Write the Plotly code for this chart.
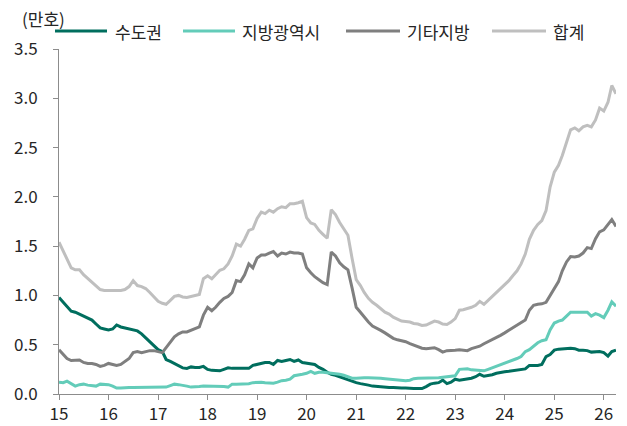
import pandas as pd
import plotly.graph_objects as go

months = pd.date_range("2015-01-01", periods=136, freq="MS")

seoul = [
    0.98, 0.93, 0.88, 0.84, 0.83, 0.81, 0.79, 0.77, 0.75, 0.71, 0.67, 0.66,
    0.65, 0.66, 0.70, 0.68, 0.67, 0.66, 0.65, 0.64, 0.61, 0.57, 0.53, 0.49,
    0.45, 0.43, 0.35, 0.33, 0.31, 0.29, 0.265, 0.26, 0.275, 0.27, 0.27, 0.28,
    0.25, 0.24, 0.235, 0.235, 0.25, 0.265, 0.26, 0.26, 0.26, 0.26, 0.26, 0.29,
    0.30, 0.315, 0.32, 0.32, 0.30, 0.34, 0.33, 0.34, 0.35, 0.33, 0.345, 0.32,
    0.315, 0.31, 0.30, 0.27, 0.25, 0.22, 0.20, 0.19, 0.175, 0.16, 0.14, 0.125,
    0.115, 0.105, 0.10, 0.09, 0.08, 0.075, 0.07, 0.065, 0.065, 0.065, 0.06, 0.06,
    0.06, 0.055, 0.055, 0.055, 0.055, 0.075, 0.10, 0.11, 0.115, 0.14, 0.105, 0.12,
    0.15, 0.14, 0.145, 0.155, 0.16, 0.175, 0.20, 0.18, 0.185, 0.195, 0.21, 0.22,
    0.225, 0.23, 0.235, 0.24, 0.245, 0.255, 0.29, 0.29, 0.29, 0.30, 0.38, 0.40,
    0.445, 0.455, 0.46, 0.465, 0.465, 0.46, 0.445, 0.445, 0.44, 0.425, 0.425, 0.43,
    0.42, 0.385, 0.43, 0.445,
]

metro = [
    0.12, 0.115, 0.13, 0.10, 0.08, 0.095, 0.10, 0.09, 0.085, 0.08, 0.10, 0.10,
    0.095, 0.08, 0.06, 0.06, 0.065, 0.065, 0.065, 0.065, 0.065, 0.065, 0.065, 0.07,
    0.07, 0.065, 0.07, 0.085, 0.10, 0.095, 0.09, 0.08, 0.07, 0.07, 0.075, 0.08,
    0.08, 0.08, 0.08, 0.08, 0.075, 0.07, 0.10, 0.10, 0.10, 0.10, 0.105, 0.115,
    0.12, 0.12, 0.115, 0.11, 0.11, 0.12, 0.135, 0.14, 0.15, 0.185, 0.19, 0.20,
    0.21, 0.23, 0.21, 0.22, 0.22, 0.215, 0.21, 0.21, 0.20, 0.19, 0.175, 0.16,
    0.16, 0.165, 0.165, 0.165, 0.165, 0.165, 0.16, 0.155, 0.15, 0.15, 0.145, 0.14,
    0.135, 0.14, 0.155, 0.16, 0.16, 0.16, 0.165, 0.165, 0.165, 0.17, 0.175, 0.175,
    0.185, 0.25, 0.255, 0.255, 0.245, 0.24, 0.235, 0.235, 0.25, 0.265, 0.28, 0.295,
    0.31, 0.325, 0.34, 0.36, 0.38, 0.43, 0.45, 0.49, 0.52, 0.54, 0.55, 0.65,
    0.72, 0.74, 0.75, 0.79, 0.83, 0.83, 0.83, 0.825, 0.83, 0.79, 0.815, 0.80,
    0.775, 0.85, 0.935, 0.89,
]

other = [
    0.45, 0.40, 0.36, 0.34, 0.34, 0.345, 0.32, 0.31, 0.31, 0.30, 0.28, 0.29,
    0.31, 0.30, 0.29, 0.30, 0.33, 0.36, 0.42, 0.43, 0.42, 0.43, 0.44, 0.44,
    0.43, 0.42, 0.47, 0.53, 0.58, 0.61, 0.63, 0.63, 0.645, 0.66, 0.68, 0.80,
    0.88, 0.845, 0.88, 0.93, 0.97, 0.99, 1.03, 1.15, 1.14, 1.21, 1.32, 1.28,
    1.38, 1.41, 1.41, 1.43, 1.445, 1.40, 1.43, 1.42, 1.44, 1.43, 1.43, 1.42,
    1.28, 1.23, 1.19, 1.16, 1.13, 1.11, 1.44, 1.40, 1.33, 1.29, 1.26, 1.08,
    0.88, 0.83, 0.78, 0.73, 0.69, 0.67, 0.645, 0.62, 0.59, 0.565, 0.55, 0.54,
    0.53, 0.51, 0.495, 0.475, 0.465, 0.46, 0.465, 0.47, 0.45, 0.425, 0.44, 0.44,
    0.445, 0.45, 0.445, 0.44, 0.46, 0.475, 0.485, 0.51, 0.53, 0.555, 0.575, 0.595,
    0.62, 0.645, 0.67, 0.70, 0.725, 0.75, 0.85, 0.90, 0.91, 0.915, 0.93, 1.00,
    1.08, 1.14, 1.25, 1.34, 1.395, 1.39, 1.40, 1.43, 1.485, 1.475, 1.575, 1.645,
    1.665, 1.72, 1.77, 1.70,
]

total = [
    1.54, 1.45, 1.36, 1.28, 1.26, 1.26, 1.21, 1.17, 1.13, 1.09, 1.06, 1.05,
    1.05, 1.045, 1.05, 1.05, 1.06, 1.09, 1.15, 1.10, 1.09, 1.07, 1.03, 0.98,
    0.94, 0.92, 0.91, 0.95, 0.99, 1.00, 0.985, 0.98, 0.99, 1.00, 1.01, 1.17,
    1.20, 1.17, 1.21, 1.255, 1.27, 1.32, 1.40, 1.52, 1.50, 1.57, 1.66, 1.675,
    1.78, 1.845, 1.83, 1.865, 1.845, 1.88, 1.90, 1.89, 1.93, 1.93, 1.94, 1.955,
    1.79, 1.735, 1.72, 1.66, 1.62, 1.58, 1.87, 1.82, 1.74, 1.67, 1.61, 1.38,
    1.16, 1.10, 1.03, 0.97, 0.93, 0.90, 0.87, 0.83, 0.81, 0.78, 0.76, 0.74,
    0.735, 0.73, 0.715, 0.71, 0.695, 0.70, 0.72, 0.74, 0.73, 0.71, 0.705, 0.73,
    0.765, 0.85, 0.855, 0.865, 0.88, 0.90, 0.94, 0.91, 0.95, 0.99, 1.03, 1.07,
    1.11, 1.15, 1.20, 1.25, 1.32, 1.42, 1.57, 1.66, 1.72, 1.76, 1.86, 2.10,
    2.25, 2.32, 2.42, 2.56, 2.68, 2.70, 2.67, 2.71, 2.725, 2.71, 2.78, 2.90,
    2.87, 2.96, 3.13, 3.045,
]

series_names = ["수도권", "지방광역시", "기타지방", "합계"]
series_colors = ["#006E5E", "#63CCB9", "#7F7F7F", "#BFBFBF"]
series_values = [seoul, metro, other, total]

year_ticks = pd.date_range("2015-01-01", "2026-01-01", freq="YS")
year_labels = ["15", "16", "17", "18", "19", "20", "21", "22", "23", "24", "25", "26"]
y_ticks = [0, 0.5, 1.0, 1.5, 2.0, 2.5, 3.0, 3.5]

FONT = "Noto Sans CJK KR"
TXT = "#262626"
AX = "#8C8C8C"

fig = go.Figure()
for name, color, vals in zip(series_names, series_colors, series_values):
    fig.add_trace(go.Scatter(
        x=months, y=vals, mode="lines", name=name,
        line=dict(color=color, width=3), showlegend=False,
    ))

# plot area in pixels
L, R, T, B = 59, 11, 49, 32
W, H = 627, 426
pw = W - L - R
ph = H - T - B

def px(xp):
    return (xp - L) / pw

def py(yp):
    return (H - B - yp) / ph

legend_items = [
    (55, 107, 113),
    (183, 235, 240),
    (346, 400, 405),
    (492, 546, 551),
]
leg_y = 31
for (x0, x1, tx), name, color in zip(legend_items, series_names, series_colors):
    fig.add_shape(type="line", xref="paper", yref="paper",
                  x0=px(x0), x1=px(x1), y0=py(leg_y), y1=py(leg_y),
                  line=dict(color=color, width=3))
    fig.add_annotation(xref="paper", yref="paper", x=px(tx), y=py(leg_y + 1),
                       text=name, showarrow=False, xanchor="left", yanchor="middle",
                       font=dict(family=FONT, size=17, color=TXT))

fig.add_annotation(xref="paper", yref="paper", x=px(43), y=py(18),
                   text="(만호)", showarrow=False, xanchor="center", yanchor="middle",
                   font=dict(family=FONT, size=17, color=TXT))

fig.update_layout(
    width=W, height=H,
    margin=dict(l=L, r=R, t=T, b=B, pad=0, autoexpand=False),
    paper_bgcolor="white", plot_bgcolor="white",
    font=dict(family=FONT, size=17, color=TXT),
)
fig.update_xaxes(
    range=[months[0], months[-1]],
    tickvals=year_ticks, ticktext=year_labels,
    showline=True, linecolor=AX, linewidth=1,
    ticks="outside", ticklen=5, tickcolor=AX, tickwidth=1,
    showgrid=False, zeroline=False, automargin=False,
    tickfont=dict(family=FONT, size=17, color=TXT),
)
fig.update_yaxes(
    range=[0, 3.5],
    tickvals=y_ticks, tickformat=".1f",
    showline=True, linecolor=AX, linewidth=1,
    ticks="outside", ticklen=5, tickcolor=AX, tickwidth=1,
    showgrid=False, zeroline=False, automargin=False,
    ticklabelstandoff=12,
    tickfont=dict(family=FONT, size=17, color=TXT),
)

fig.write_html(
    "out.html",
    config={"displayModeBar": False},
    post_script="document.body.style.margin='0';document.body.style.padding='0';",
)
